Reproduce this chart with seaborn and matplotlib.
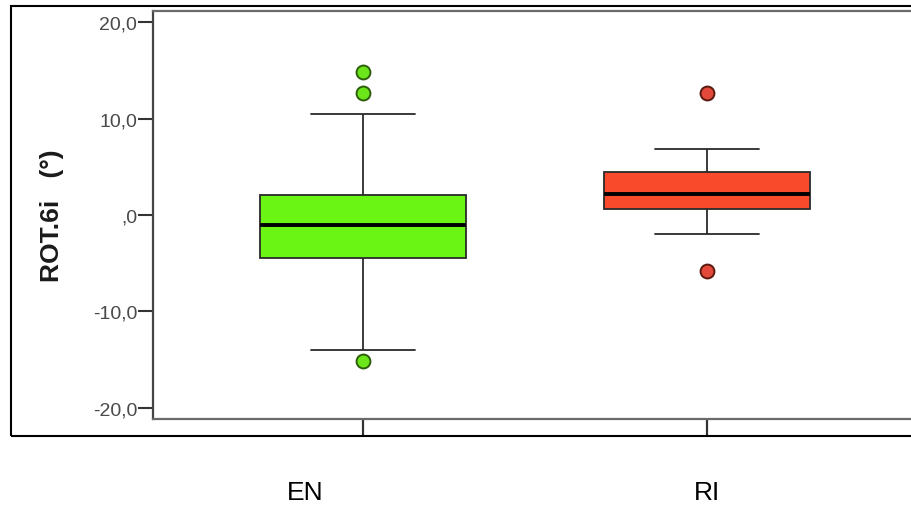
import matplotlib
matplotlib.use("Agg")
import matplotlib.pyplot as plt
import matplotlib.transforms as mtransforms
from matplotlib.patches import Rectangle
import seaborn as sns
import pandas as pd

# ---- data ----
groups = ["EN", "RI"]
en_values = [-15.1, -14.0, -8.0, -4.46, -3.0, -2.0, -1.04, 0.0, 1.0, 2.07, 10.5, 12.6, 14.8]
ri_values = [-5.8, -1.97, 0.62, 1.5, 2.18, 3.0, 4.46, 6.84, 12.6]
ytick_values = [20, 10, 0, -10, -20]
ytick_labels = ["20,0", "10,0", ",0", "-10,0", "-20,0"]
y_label = "ROT.6i   (°)"

box_colors = {"EN": "#6BF514", "RI": "#FA4A2C"}
flier_face = {"EN": "#6BE61A", "RI": "#E2493A"}
flier_edge = {"EN": "#2D5F0A", "RI": "#5A1A10"}

df = pd.DataFrame({
    "group": ["EN"] * len(en_values) + ["RI"] * len(ri_values),
    "value": en_values + ri_values,
})

sns.set_style("white")
plt.rcParams["font.family"] = ["Liberation Sans", "DejaVu Sans"]

W, H = 912, 506
fig = plt.figure(figsize=(W / 100, H / 100), dpi=100)
ax = fig.add_axes([153 / W, (H - 420) / H, 764 / W, (420 - 12) / H])

sns.boxplot(
    data=df, x="group", y="value", hue="group", order=groups, hue_order=groups,
    palette=box_colors, saturation=1, legend=False, width=0.6,
    linecolor="#2a2a2a", linewidth=1.3, fliersize=10, ax=ax,
    medianprops=dict(color="black", linewidth=2.8),
    flierprops=dict(marker="o", markeredgewidth=1.4),
)

# colour the outlier markers per group
for ln in ax.lines:
    if ln.get_marker() == "o" and len(ln.get_xdata()) > 0:
        x0 = ln.get_xdata()[0]
        g = groups[int(round(x0))]
        ln.set_markerfacecolor(flier_face[g])
        ln.set_markeredgecolor(flier_edge[g])

ax.set_xlim(-0.61, 1.61)
ax.set_ylim(-21.14, 21.14)
ax.set_yticks(ytick_values, ytick_labels)
ax.set_xlabel("")
ax.set_ylabel(y_label, fontsize=19, fontweight="bold", color="#1a1a1a")
ax.yaxis.set_label_coords(-0.1165, 0.5)

for side in ["left", "top", "bottom", "right"]:
    ax.spines[side].set_color("#6a6a6a")
    ax.spines[side].set_linewidth(1.6)
ax.spines["left"].set_color("#444444")

ax.tick_params(axis="y", direction="out", length=10.5, width=1.5, color="#333333",
               labelsize=14, labelcolor="#4a4a4a", pad=1, left=True)
ax.tick_params(axis="x", direction="out", length=12.2, width=1.6, color="#333333",
               labelsize=19, labelcolor="black", pad=32, bottom=True)

# the EN label sits left of its tick in the reference
lbl = ax.get_xticklabels()[0]
lbl.set_transform(lbl.get_transform() + mtransforms.ScaledTranslation(-0.58, 0, fig.dpi_scale_trans))

# outer frame
fig.patches.append(Rectangle((11 / W, (H - 437) / H), 2.0, (437 - 7) / H,
                             transform=fig.transFigure, fill=False,
                             edgecolor="black", linewidth=1.5))

fig.savefig("out.png", dpi=100)
